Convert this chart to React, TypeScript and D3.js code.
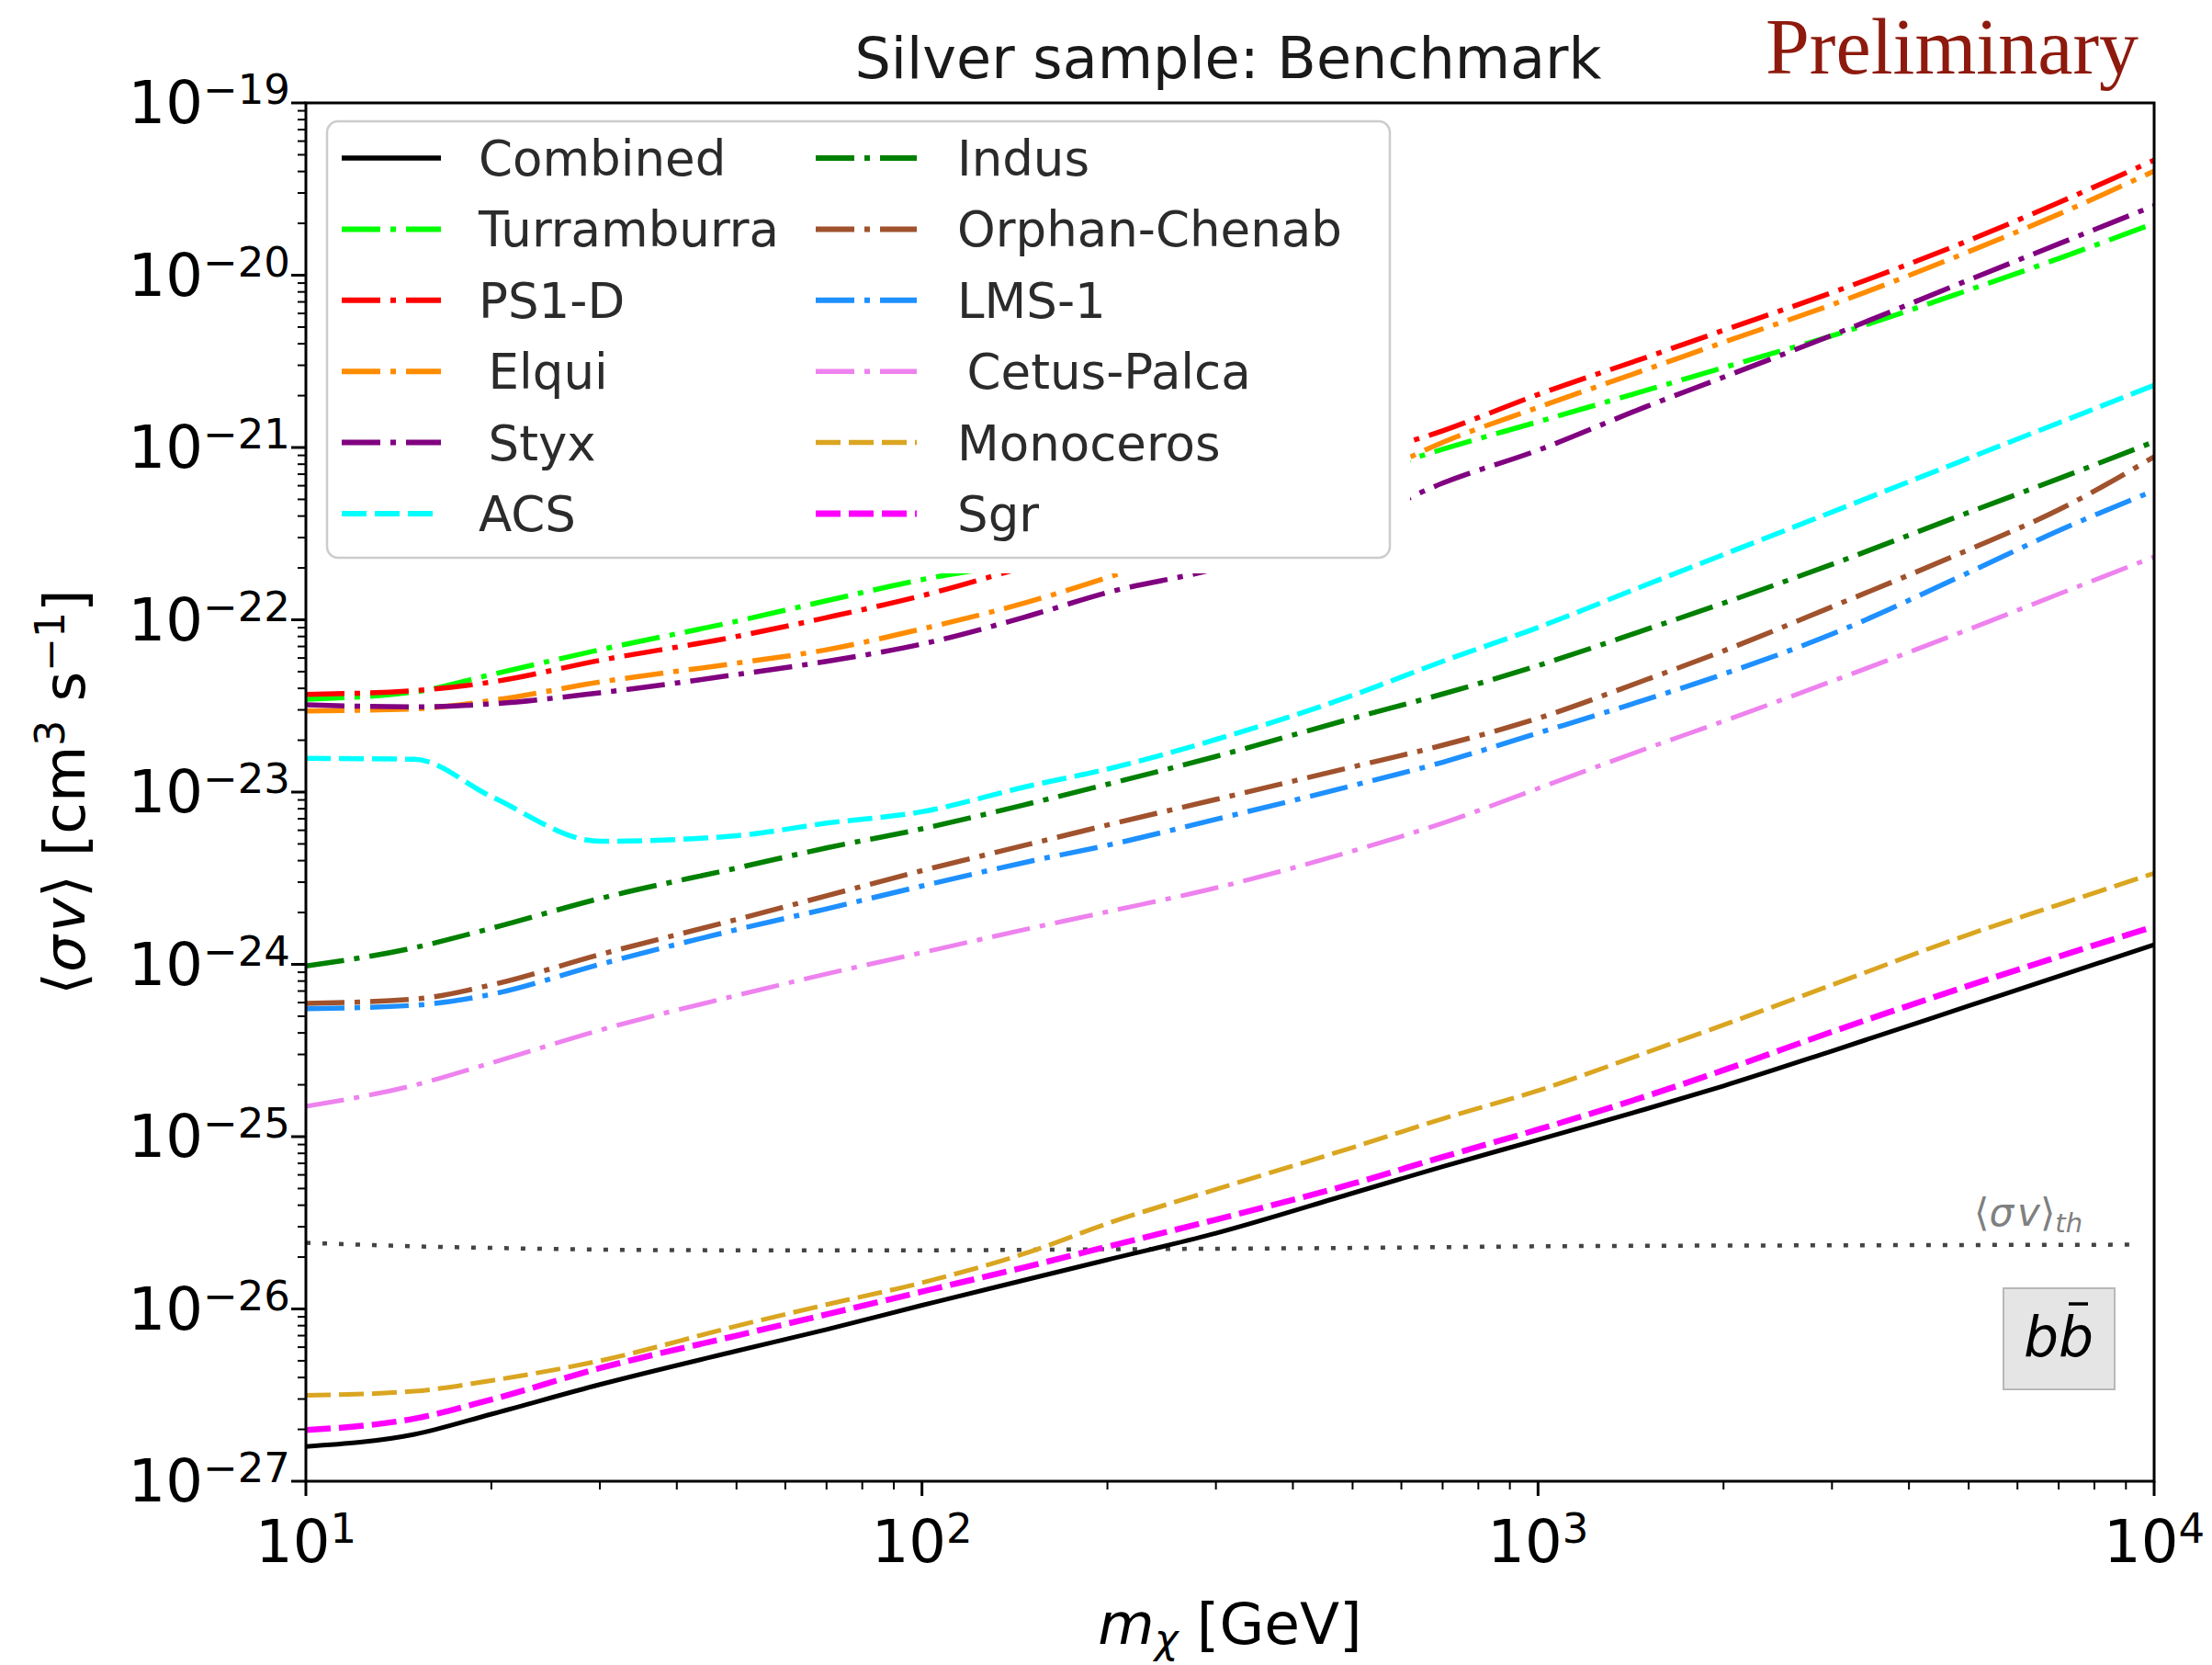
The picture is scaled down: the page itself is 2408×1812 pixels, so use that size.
import React from 'react';
import * as d3 from 'd3';

// ---------- data ----------
const masses = [10, 15, 20, 30, 50, 70, 100, 150, 200, 300, 500, 700, 1000, 1500, 2000, 3000, 5000, 7000, 10000];

const combined = [1.59e-27, 1.87e-27, 2.45e-27, 3.64e-27, 5.7e-27, 7.6e-27, 1.05e-26, 1.5e-26, 1.93e-26, 2.75e-26, 4.7e-26, 6.7e-26, 9.6e-26, 1.45e-25, 1.97e-25, 3.14e-25, 5.74e-25, 8.55e-25, 1.30e-24];
const turramburra = [3.46e-23, 3.81e-23, 4.81e-23, 6.70e-23, 9.8e-23, 1.29e-22, 1.71e-22, 2.21e-22, 2.83e-22, 4.08e-22, 6.67e-22, 9.77e-22, 1.41e-21, 2.15e-21, 2.91e-21, 4.45e-21, 8.20e-21, 1.25e-20, 2.0e-20];
const ps1d = [3.69e-23, 3.88e-23, 4.35e-23, 5.81e-23, 8.0e-23, 1.03e-22, 1.38e-22, 2.07e-22, 2.75e-22, 4.24e-22, 8.53e-22, 1.25e-21, 2.03e-21, 3.34e-21, 4.79e-21, 7.93e-21, 1.59e-20, 2.64e-20, 4.65e-20];
const elqui = [2.96e-23, 3.04e-23, 3.40e-23, 4.35e-23, 5.60e-23, 6.70e-23, 8.85e-23, 1.28e-22, 1.76e-22, 2.83e-22, 6.12e-22, 1.07e-21, 1.71e-21, 2.84e-21, 4.08e-21, 6.75e-21, 1.37e-20, 2.26e-20, 4.02e-20];
const styx = [3.21e-23, 3.12e-23, 3.25e-23, 3.77e-23, 4.81e-23, 5.74e-23, 7.23e-23, 1.06e-22, 1.44e-22, 1.98e-22, 3.61e-22, 6.21e-22, 9.64e-22, 1.73e-21, 2.56e-21, 4.48e-21, 9.38e-21, 1.52e-20, 2.53e-20];
const acs = [1.57e-23, 1.55e-23, 9.42e-24, 5.18e-24, 5.58e-24, 6.6e-24, 7.69e-24, 1.09e-23, 1.36e-23, 2.02e-23, 3.64e-23, 5.74e-23, 9.02e-23, 1.60e-22, 2.39e-22, 4.22e-22, 8.67e-22, 1.39e-21, 2.30e-21];
const indus = [9.77e-25, 1.25e-24, 1.62e-24, 2.41e-24, 3.62e-24, 4.74e-24, 6.12e-24, 8.6e-24, 1.11e-23, 1.61e-23, 2.68e-23, 3.71e-23, 5.42e-23, 8.8e-23, 1.25e-22, 2.1e-22, 4.2e-22, 6.6e-22, 1.08e-21];
const orphanChenab = [5.94e-25, 6.28e-25, 7.6e-25, 1.14e-24, 1.82e-24, 2.5e-24, 3.5e-24, 5.0e-24, 6.44e-24, 9.06e-24, 1.40e-23, 1.87e-23, 2.68e-23, 4.5e-23, 6.6e-23, 1.19e-22, 2.55e-22, 4.35e-22, 8.83e-22];
const lms1 = [5.53e-25, 5.79e-25, 6.7e-25, 1.0e-24, 1.59e-24, 2.1e-24, 2.85e-24, 3.97e-24, 4.91e-24, 6.95e-24, 1.09e-23, 1.49e-23, 2.20e-23, 3.45e-23, 4.84e-23, 8.26e-23, 1.88e-22, 3.29e-22, 5.62e-22];
const cetusPalca = [1.50e-25, 1.99e-25, 2.68e-25, 4.15e-25, 6.6e-25, 8.8e-25, 1.17e-24, 1.62e-24, 2.02e-24, 2.78e-24, 4.55e-24, 6.6e-24, 1.05e-23, 1.79e-23, 2.58e-23, 4.40e-23, 8.8e-23, 1.41e-22, 2.32e-22];
const monoceros = [3.15e-27, 3.33e-27, 3.84e-27, 5.0e-27, 7.96e-27, 1.06e-26, 1.42e-26, 2.15e-26, 3.13e-26, 4.94e-26, 8.65e-26, 1.27e-25, 1.85e-25, 3.08e-25, 4.45e-25, 7.60e-25, 1.49e-24, 2.22e-24, 3.38e-24];
const sgr = [1.98e-27, 2.31e-27, 2.98e-27, 4.53e-27, 7.0e-27, 9.3e-27, 1.26e-26, 1.78e-26, 2.3e-26, 3.3e-26, 5.33e-26, 7.62e-26, 1.10e-25, 1.72e-25, 2.43e-25, 4.06e-25, 7.52e-25, 1.11e-24, 1.66e-24];

const thresholdMasses = [10, 15, 20, 30, 50, 100, 200, 500, 1000, 3000, 9300];
const thresholdValues = [2.42e-26, 2.31e-26, 2.26e-26, 2.21e-26, 2.19e-26, 2.19e-26, 2.22e-26, 2.26e-26, 2.31e-26, 2.34e-26, 2.36e-26];

const seriesNames = ['Combined', 'Turramburra', 'PS1-D', 'Elqui', 'Styx', 'ACS', 'Indus', 'Orphan-Chenab', 'LMS-1', 'Cetus-Palca', 'Monoceros', 'Sgr'];
const legendLabels = ['Combined', 'Turramburra', 'PS1-D', '\u2009Elqui', '\u2009Styx', 'ACS', 'Indus', 'Orphan-Chenab', 'LMS-1', '\u2009Cetus-Palca', 'Monoceros', 'Sgr'];
const seriesValues = [combined, turramburra, ps1d, elqui, styx, acs, indus, orphanChenab, lms1, cetusPalca, monoceros, sgr];

const xTickValues = [10, 100, 1000, 10000];
const xTickExponents = ['1', '2', '3', '4'];
const yTickValues = [1e-27, 1e-26, 1e-25, 1e-24, 1e-23, 1e-22, 1e-21, 1e-20, 1e-19];
const yTickExponents = ['\u221227', '\u221226', '\u221225', '\u221224', '\u221223', '\u221222', '\u221221', '\u221220', '\u221219'];

// ---------- styles ----------
const DASHDOT = '42 11 6 11';
const DASHED = '27 9';
const styles: Record<string, { color: string; dash: string | null; width: number }> = {
  'Combined': { color: '#000000', dash: null, width: 5 },
  'Turramburra': { color: '#00ff00', dash: DASHDOT, width: 5.5 },
  'PS1-D': { color: '#ff0000', dash: DASHDOT, width: 5.5 },
  'Elqui': { color: '#ff8c00', dash: DASHDOT, width: 5.5 },
  'Styx': { color: '#800080', dash: DASHDOT, width: 5.5 },
  'ACS': { color: '#00ffff', dash: DASHED, width: 5.5 },
  'Indus': { color: '#008000', dash: DASHDOT, width: 5.5 },
  'Orphan-Chenab': { color: '#a0522d', dash: DASHDOT, width: 5.5 },
  'LMS-1': { color: '#1e90ff', dash: DASHDOT, width: 5.5 },
  'Cetus-Palca': { color: '#ee82ee', dash: DASHDOT, width: 5 },
  'Monoceros': { color: '#daa520', dash: DASHED, width: 5 },
  'Sgr': { color: '#ff00ff', dash: DASHED, width: 6.5 },
};

const FONT = '"DejaVu Sans", Verdana, sans-serif';

export default function App() {
  const W = 2408, H = 1812;
  const L = 333, R = 2345, T = 112, B = 1612;
  const x = d3.scaleLog().domain([10, 1e4]).range([L, R]);
  const y = d3.scaleLog().domain([1e-27, 1e-19]).range([B, T]);
  const line = d3.line<[number, number]>().x(d => x(d[0])).y(d => y(d[1])).curve(d3.curveMonotoneX);

  const xTicksAll = x.ticks();
  const yTicksAll = y.ticks();
  const isMajor = (v: number) => Math.abs(Math.log10(v) - Math.round(Math.log10(v))) < 1e-6;

  // legend geometry
  const lg = { x: 356, y: 132, w: 1157, h: 475 };
  const rowY0 = 172, rowDy = 77.4;
  const cols = [{ h1: 372, h2: 480, tx: 521 }, { h1: 888, h2: 998, tx: 1042 }];

  return (
    <svg width={W} height={H} viewBox={`0 0 ${W} ${H}`} style={{ position: 'absolute', left: 0, top: 0, background: '#fff' }} fontFamily={FONT}>
      <defs>
        <clipPath id="plotclip">
          <rect x={L} y={T} width={R - L} height={B - T} />
        </clipPath>
      </defs>
      <rect x={0} y={0} width={W} height={H} fill="#ffffff" />

      {/* curves */}
      <g clipPath="url(#plotclip)">
        <path
          d={line(thresholdMasses.map((m, i) => [m, thresholdValues[i]]) as [number, number][]) || ''}
          fill="none" stroke="#444444" strokeWidth={4.5} strokeDasharray="5 13"
        />
        {seriesNames.map((name, si) => {
          const st = styles[name];
          const pts = masses.map((m, i) => [m, seriesValues[si][i]]) as [number, number][];
          return (
            <path key={name} d={line(pts) || ''} fill="none" stroke={st.color}
              strokeWidth={st.width} strokeDasharray={st.dash || undefined}
              strokeLinejoin="round" strokeLinecap="butt" />
          );
        })}
      </g>

      {/* threshold label */}
      <text x={2149} y={1334} fontSize={42} fill="#808080">
        {'\u27e8'}<tspan fontStyle="italic">{'\u03c3'}</tspan><tspan dx={4} fontStyle="italic">v</tspan>{'\u27e9'}
        <tspan dy={7} fontSize={29} fontStyle="italic">th</tspan>
      </text>

      {/* b bbar box */}
      <rect x={2181} y={1402} width={121} height={110} fill="#e5e5e5" stroke="#b8b8b8" strokeWidth={2} />
      <text x={2241} y={1476} fontSize={60} fontStyle="italic" textAnchor="middle" fill="#000">bb</text>
      <line x1={2252} x2={2273} y1={1419} y2={1419} stroke="#000" strokeWidth={3.5} />

      {/* legend mask + box */}
      <rect x={L + 2} y={T + 2} width={1535 - L - 2} height={624 - T - 2} fill="#ffffff" />
      <rect x={lg.x} y={lg.y} width={lg.w} height={lg.h} rx={12} ry={12} fill="#ffffff" stroke="#cccccc" strokeWidth={2.5} />
      {seriesNames.map((name, i) => {
        const col = cols[Math.floor(i / 6)];
        const ry = rowY0 + (i % 6) * rowDy;
        const st = styles[name];
        return (
          <g key={'lg' + name}>
            <line x1={col.h1} x2={col.h2} y1={ry} y2={ry} stroke={st.color} strokeWidth={st.width + 0.5}
              strokeDasharray={st.dash || undefined} />
            <text x={col.tx} y={ry + 19} fontSize={53} fill="#2b2b2b" style={{ whiteSpace: 'pre' }}>{legendLabels[i]}</text>
          </g>
        );
      })}

      {/* axes frame */}
      <rect x={L} y={T} width={R - L} height={B - T} fill="none" stroke="#000" strokeWidth={3} />

      {/* x ticks */}
      {xTicksAll.map((v, i) => {
        const major = isMajor(v);
        return <line key={'xt' + i} x1={x(v)} x2={x(v)} y1={B} y2={B + (major ? 16 : 9)} stroke="#000" strokeWidth={major ? 3 : 2} />;
      })}
      {xTickValues.map((v, i) => (
        <text key={'xl' + i} x={x(v)} y={1700} fontSize={64} textAnchor="middle" fill="#000">
          10<tspan dy={-21} fontSize={45}>{xTickExponents[i]}</tspan>
        </text>
      ))}

      {/* y ticks */}
      {yTicksAll.map((v, i) => {
        const major = isMajor(v);
        return <line key={'yt' + i} x1={L - (major ? 16 : 9)} x2={L} y1={y(v)} y2={y(v)} stroke="#000" strokeWidth={major ? 3 : 2} />;
      })}
      {yTickValues.map((v, i) => (
        <text key={'yl' + i} x={316} y={y(v) + 22} fontSize={64} textAnchor="end" fill="#000">
          10<tspan dy={-21} fontSize={45}>{yTickExponents[i]}</tspan>
        </text>
      ))}

      {/* axis labels */}
      <text x={(L + R) / 2} y={1789} fontSize={63} textAnchor="middle" fill="#000">
        <tspan fontStyle="italic">m</tspan><tspan dy={10} fontSize={44} fontStyle="italic">{'\u03c7'}</tspan><tspan dy={-10}> [GeV]</tspan>
      </text>
      <text transform={`translate(92, ${(T + B) / 2}) rotate(-90)`} fontSize={63} textAnchor="middle" fill="#000">
        {'\u27e8'}<tspan fontStyle="italic">{'\u03c3'}</tspan><tspan fontStyle="italic" dx={4}>v</tspan>{'\u27e9'} [cm<tspan dy={-22} fontSize={44}>3</tspan><tspan dy={22}> s</tspan><tspan dy={-22} fontSize={44}>{'\u22121'}</tspan><tspan dy={22}>]</tspan>
      </text>

      {/* title */}
      <text x={1337} y={85} fontSize={62} textAnchor="middle" fill="#1a1a1a">Silver sample: Benchmark</text>
      <text x={1922} y={80} fontSize={86} fill="#8e1a0e" fontFamily='"Liberation Serif", "DejaVu Serif", serif'>Preliminary</text>
    </svg>
  );
}
